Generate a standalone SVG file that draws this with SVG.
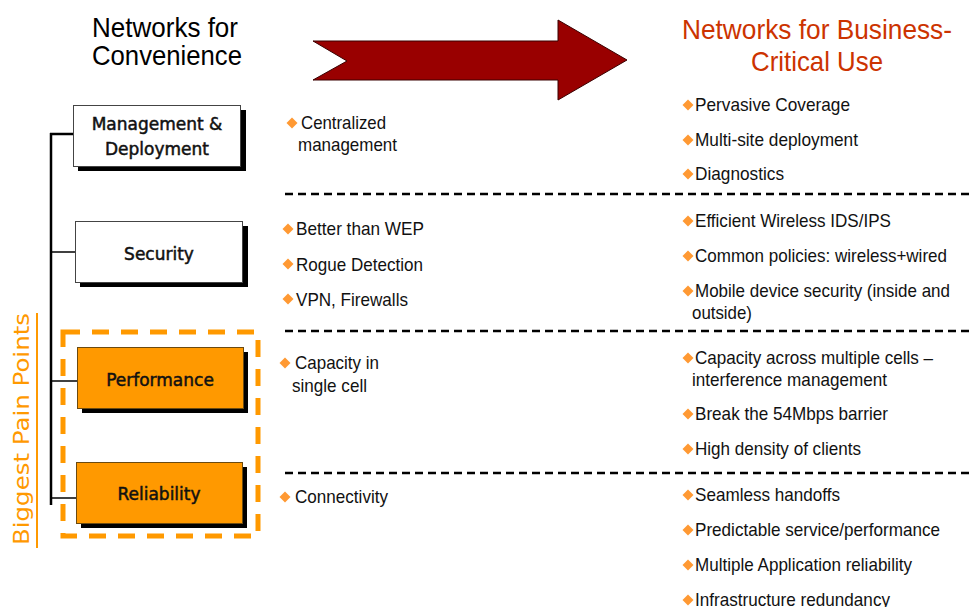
<svg xmlns="http://www.w3.org/2000/svg" xmlns:xlink="http://www.w3.org/1999/xlink" width="972" height="607" viewBox="0 0 972 607">
<defs>
<style>
.t{font-family:"Liberation Sans",Arial,sans-serif;font-size:19px;fill:#111}
.title{font-family:"Liberation Sans",Arial,sans-serif;font-size:28px;fill:#000}
.red{fill:#CC3300}
.lbl{font-family:"DejaVu Sans",Tahoma,sans-serif;font-size:17px;fill:#111;stroke:#111;stroke-width:0.5;text-anchor:middle}
.box{fill:#fff;stroke:#444;stroke-width:1}
.obox{fill:#FF9900;stroke:#6b4a10;stroke-width:1}
.shadow{fill:#000}
.dash{stroke:#000;stroke-width:2.5;stroke-dasharray:8 5;fill:none}
.conn{stroke:#000;fill:none}
</style>
<path id="b" d="M0,-5.5 L5.5,0 L0,5.5 L-5.5,0 Z" fill="#FF9933"/>
</defs>

<!-- headers -->
<g id="title-left">
<text class="title" x="92" y="37" textLength="146" lengthAdjust="spacingAndGlyphs">Networks for</text>
<text class="title" x="92" y="65" textLength="150" lengthAdjust="spacingAndGlyphs">Convenience</text>
</g>
<g id="arrow">
<path d="M313,41 L558,41 L558,20 L627,60 L558,100 L558,80 L313,80 L347,61 Z" fill="#990000" stroke="#3a0000" stroke-width="1"/>
</g>
<g id="title-right">
<text class="title red" x="682" y="39" textLength="270" lengthAdjust="spacingAndGlyphs">Networks for Business-</text>
<text class="title red" x="751" y="71" textLength="132" lengthAdjust="spacingAndGlyphs">Critical Use</text>
</g>

<!-- side label -->
<g id="pain-label">
<text transform="translate(29,545) rotate(-90)" font-family="'DejaVu Sans',Tahoma,sans-serif" font-size="22" fill="#FF9900" textLength="232" lengthAdjust="spacingAndGlyphs">Biggest Pain Points</text>
<line x1="37" y1="313" x2="37" y2="548" stroke="#FF9900" stroke-width="2"/>
</g>
<rect id="pain-box" x="63" y="332" width="195" height="204" fill="none" stroke="#FF9900" stroke-width="5" stroke-dasharray="17 12"/>

<!-- connectors -->
<g id="connectors">
<line class="conn" x1="51" y1="133" x2="51" y2="505" stroke-width="2.5"/>
<line class="conn" x1="50" y1="134" x2="73" y2="134" stroke-width="2.5"/>
<line class="conn" x1="50" y1="252" x2="75" y2="252" stroke-width="1.5"/>
<line class="conn" x1="50" y1="381" x2="77" y2="381" stroke-width="1.5"/>
<line class="conn" x1="50" y1="498" x2="76" y2="498" stroke-width="1.5"/>
</g>

<!-- nodes -->
<g id="node-management">
<rect class="shadow" x="78" y="110" width="168" height="61"/>
<rect class="box" x="73.5" y="105.5" width="167" height="61"/>
<text class="lbl" x="157" y="130">Management &amp;</text>
<text class="lbl" x="157" y="155">Deployment</text>
</g>
<g id="node-security">
<rect class="shadow" x="80" y="226" width="168" height="61"/>
<rect class="box" x="75.5" y="221.5" width="167" height="61"/>
<text class="lbl" x="159" y="260">Security</text>
</g>
<g id="node-performance">
<rect class="shadow" x="82" y="352" width="166" height="61"/>
<rect class="obox" x="77.5" y="347.5" width="166" height="61"/>
<text class="lbl" x="160" y="386">Performance</text>
</g>
<g id="node-reliability">
<rect class="shadow" x="81" y="467" width="166" height="61"/>
<rect class="obox" x="76.5" y="462.5" width="166" height="61"/>
<text class="lbl" x="159" y="500">Reliability</text>
</g>

<!-- separators -->
<g id="separators">
<line class="dash" x1="285" y1="194" x2="970" y2="194"/>
<line class="dash" x1="285" y1="331" x2="970" y2="331"/>
<line class="dash" x1="285" y1="473" x2="970" y2="473"/>
</g>

<!-- left column -->
<g id="convenience-items">
<use xlink:href="#b" x="292" y="123"/>
<text class="t" x="301" y="129" textLength="85" lengthAdjust="spacingAndGlyphs">Centralized</text>
<text class="t" x="298" y="151" textLength="99" lengthAdjust="spacingAndGlyphs">management</text>
<use xlink:href="#b" x="288" y="229"/>
<text class="t" x="296" y="235" textLength="128" lengthAdjust="spacingAndGlyphs">Better than WEP</text>
<use xlink:href="#b" x="288" y="264"/>
<text class="t" x="296" y="271" textLength="127" lengthAdjust="spacingAndGlyphs">Rogue Detection</text>
<use xlink:href="#b" x="288" y="299"/>
<text class="t" x="296" y="306" textLength="112" lengthAdjust="spacingAndGlyphs">VPN, Firewalls</text>
<use xlink:href="#b" x="285" y="363"/>
<text class="t" x="295" y="369" textLength="84" lengthAdjust="spacingAndGlyphs">Capacity in</text>
<text class="t" x="292" y="392" textLength="75" lengthAdjust="spacingAndGlyphs">single cell</text>
<use xlink:href="#b" x="285" y="497"/>
<text class="t" x="295" y="503" textLength="93" lengthAdjust="spacingAndGlyphs">Connectivity</text>
</g>

<!-- right column -->
<g id="business-items">
<use xlink:href="#b" x="688" y="105"/>
<text class="t" x="695" y="111" textLength="155" lengthAdjust="spacingAndGlyphs">Pervasive Coverage</text>
<use xlink:href="#b" x="688" y="140"/>
<text class="t" x="695" y="146" textLength="163" lengthAdjust="spacingAndGlyphs">Multi-site deployment</text>
<use xlink:href="#b" x="688" y="174"/>
<text class="t" x="695" y="180" textLength="89" lengthAdjust="spacingAndGlyphs">Diagnostics</text>
<use xlink:href="#b" x="688" y="221"/>
<text class="t" x="695" y="227" textLength="196" lengthAdjust="spacingAndGlyphs">Efficient Wireless IDS/IPS</text>
<use xlink:href="#b" x="688" y="256"/>
<text class="t" x="695" y="262" textLength="252" lengthAdjust="spacingAndGlyphs">Common policies: wireless+wired</text>
<use xlink:href="#b" x="688" y="291"/>
<text class="t" x="695" y="297" textLength="255" lengthAdjust="spacingAndGlyphs">Mobile device security (inside and</text>
<text class="t" x="692" y="319" textLength="60" lengthAdjust="spacingAndGlyphs">outside)</text>
<use xlink:href="#b" x="688" y="358"/>
<text class="t" x="695" y="364" textLength="238" lengthAdjust="spacingAndGlyphs">Capacity across multiple cells –</text>
<text class="t" x="692" y="386" textLength="195" lengthAdjust="spacingAndGlyphs">interference management</text>
<use xlink:href="#b" x="688" y="414"/>
<text class="t" x="695" y="420" textLength="193" lengthAdjust="spacingAndGlyphs">Break the 54Mbps barrier</text>
<use xlink:href="#b" x="688" y="449"/>
<text class="t" x="695" y="455" textLength="166" lengthAdjust="spacingAndGlyphs">High density of clients</text>
<use xlink:href="#b" x="688" y="495"/>
<text class="t" x="695" y="501" textLength="145" lengthAdjust="spacingAndGlyphs">Seamless handoffs</text>
<use xlink:href="#b" x="688" y="530"/>
<text class="t" x="695" y="536" textLength="245" lengthAdjust="spacingAndGlyphs">Predictable service/performance</text>
<use xlink:href="#b" x="688" y="565"/>
<text class="t" x="695" y="571" textLength="217" lengthAdjust="spacingAndGlyphs">Multiple Application reliability</text>
<use xlink:href="#b" x="688" y="600"/>
<text class="t" x="695" y="606" textLength="195" lengthAdjust="spacingAndGlyphs">Infrastructure redundancy</text>
</g>
</svg>
